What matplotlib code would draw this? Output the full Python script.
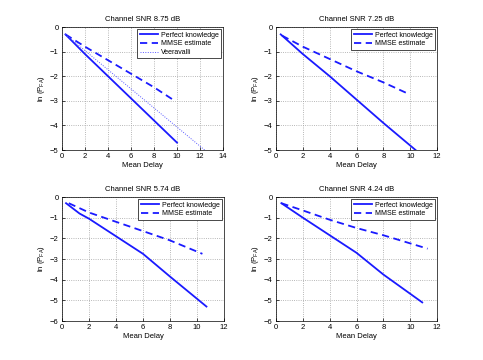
import matplotlib
matplotlib.use("Agg")
import matplotlib.pyplot as plt

plt.rcParams['font.family'] = ['Liberation Sans', 'DejaVu Sans']
plt.rcParams['font.size'] = 5.5
plt.rcParams['mathtext.default'] = 'regular'

titles = ["Channel SNR 8.75 dB", "Channel SNR 7.25 dB", "Channel SNR 5.74 dB", "Channel SNR 4.24 dB"]

# Panel 1
p1_perf_x = [0.3, 2, 4, 6, 8, 10]
p1_perf_y = [-0.3, -1.1, -2.0, -2.9, -3.8, -4.7]
p1_mmse_x = [0.3, 2, 4, 6, 8, 9.8]
p1_mmse_y = [-0.3, -0.8, -1.35, -1.9, -2.45, -3.0]
p1_veer_x = [0.3, 12.4]
p1_veer_y = [-0.3, -5.0]

# Panel 2
p2_perf_x = [0.35, 2, 4, 6, 8, 10.4]
p2_perf_y = [-0.3, -1.1, -2.0, -2.95, -3.9, -5.0]
p2_mmse_x = [0.45, 2, 4, 6, 8, 9.8]
p2_mmse_y = [-0.35, -0.8, -1.3, -1.8, -2.25, -2.7]

# Panel 3
p3_perf_x = [0.3, 1.3, 2, 4, 6, 8, 10.7]
p3_perf_y = [-0.3, -0.8, -1.05, -1.9, -2.75, -3.85, -5.3]
p3_mmse_x = [0.5, 2, 4, 6, 8, 10.4]
p3_mmse_y = [-0.3, -0.75, -1.2, -1.65, -2.1, -2.75]

# Panel 4
p4_perf_x = [0.4, 2, 4, 6, 8, 10.9]
p4_perf_y = [-0.3, -1.0, -1.85, -2.7, -3.75, -5.1]
p4_mmse_x = [0.4, 2, 4, 6, 8, 11.3]
p4_mmse_y = [-0.3, -0.65, -1.1, -1.5, -1.85, -2.5]

xlims = [(0, 14), (0, 12), (0, 12), (0, 12)]
ylims = [(-5, 0), (-5, 0), (-6, 0), (-6, 0)]

fig = plt.figure(figsize=(4.83, 3.6), dpi=100)
rects = [
    [62/483, 1-150/360, 161/483, 123/360],
    [276/483, 1-150/360, 161/483, 123/360],
    [62/483, 1-321/360, 162/483, 124/360],
    [276/483, 1-321/360, 161/483, 124/360],
]

data = [
    [(p1_perf_x, p1_perf_y), (p1_mmse_x, p1_mmse_y), (p1_veer_x, p1_veer_y)],
    [(p2_perf_x, p2_perf_y), (p2_mmse_x, p2_mmse_y)],
    [(p3_perf_x, p3_perf_y), (p3_mmse_x, p3_mmse_y)],
    [(p4_perf_x, p4_perf_y), (p4_mmse_x, p4_mmse_y)],
]
labels = ["Perfect knowledge", "MMSE estimate", "Veeravalli"]
styles = [dict(ls='-', lw=1.3, color='#1a1aff'),
          dict(ls=(0, (4, 2.5)), lw=1.3, color='#1a1aff'),
          dict(ls=(0, (1, 1.5)), lw=0.7, color='#5a5aff')]

for i in range(4):
    ax = fig.add_axes(rects[i])
    for j, (xs, ys) in enumerate(data[i]):
        ax.plot(xs, ys, label=labels[j], **styles[j])
    ax.set_xlim(*xlims[i])
    ax.set_ylim(*ylims[i])
    ax.set_xticks(range(xlims[i][0], xlims[i][1] + 1, 2))
    ax.set_yticks(range(ylims[i][0], 1))
    ax.set_yticklabels([str(v).replace('-', '\u2212') for v in range(ylims[i][0], 1)])
    ax.grid(True, ls=':', color='#a0a0a0', lw=0.6)
    ax.tick_params(direction='in', length=2, width=0.5, pad=2.5, labelsize=5.5)
    for s in ax.spines.values():
        s.set_linewidth(0.5)
    ax.set_title(titles[i], fontsize=5.5, pad=4)
    ax.set_xlabel("Mean Delay", fontsize=5.5, labelpad=1)
    ax.set_ylabel(r"ln (P$_{FA}$)", fontsize=5.5, labelpad=2)
    leg = ax.legend(loc='upper right', fontsize=5, frameon=True, fancybox=False,
                    edgecolor='black', framealpha=1, borderpad=0.35, labelspacing=0.25,
                    handlelength=2.6, handletextpad=0.4, borderaxespad=0.3)
    leg.get_frame().set_linewidth(0.5)

fig.savefig("out.png", dpi=100)
